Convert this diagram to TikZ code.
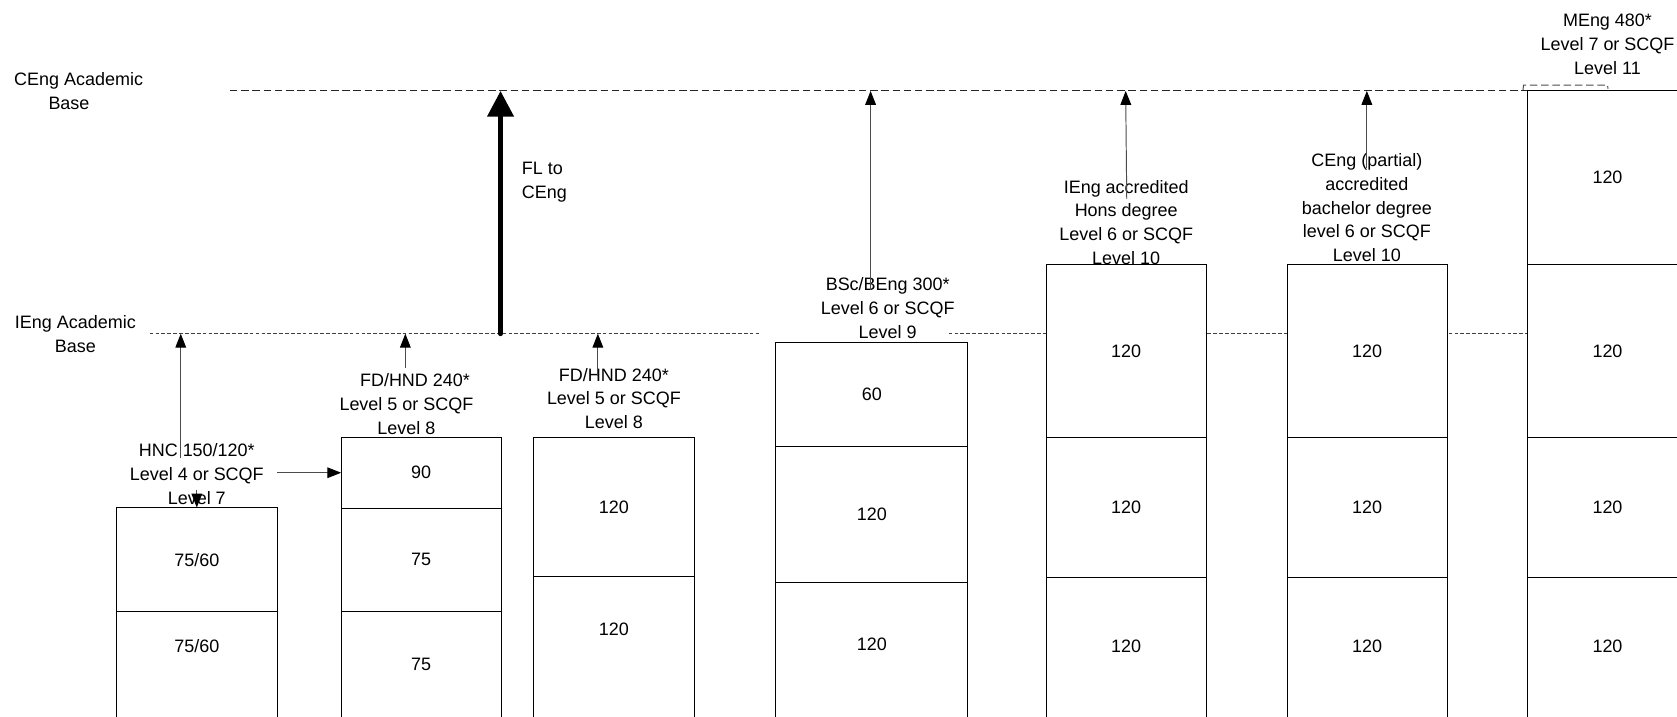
\documentclass[tikz,border=0pt]{standalone}
\usepackage{fontspec}
\setmainfont{Liberation Sans}
\usetikzlibrary{arrows.meta}
\begin{document}
\begin{tikzpicture}[x=1pt,y=-1pt,
  every node/.style={font=\fontsize{16.8}{22.3}\selectfont, inner sep=0pt, outer sep=0pt},
  lbl/.style={align=center},
  cell/.style={draw=black, line width=0.9pt, fill=white, minimum width=150pt, anchor=north},
  arr/.style={draw=black!70, line width=0.9pt, -{Triangle[length=13pt,width=10pt,black]}},
  thickarr/.style={draw=black, line width=4.7pt, line cap=round, -{Triangle[length=24pt,width=24pt]}},
  cengline/.style={dash pattern=on 7pt off 3.5pt, line width=0.9pt, draw=black!85},
  iengline/.style={dash pattern=on 3.5pt off 2pt, line width=0.9pt, draw=black!75},
]
\useasboundingbox (0,0) rectangle (1568,669.5);
\clip (0,0) rectangle (1568,669.5);

% academic base lines
\coordinate (cengS) at (215,85);
\coordinate (cengE) at (1428,85);
\draw[cengline] (cengS) -- (cengE);
\draw[iengline] (140,312) -- (710,312);
\draw[iengline] (887,312) -- (1428,312);
\draw[cengline, draw=black!70] (1424,84) -- (1424.5,79.5) -- (1503,79.5) -- (1503.5,83);

% column 1: HNC
\node[cell, minimum height=97.5pt] (c1a) at (184,474.5) {75/60};
\node[cell, minimum height=130pt] (c1b) at (184,572) {};
\node (t1b) at (184,604.5) {75/60};

% column 2: FD/HND
\node[cell, minimum width=149.5pt, minimum height=66pt] (c2a) at (393.75,409) {90};
\node[cell, minimum width=149.5pt, minimum height=97pt] (c2b) at (393.75,475) {75};
\node[cell, minimum width=149.5pt, minimum height=130pt] (c2c) at (393.75,572) {};
\node (t2c) at (393.75,621) {75};

% column 3: FD/HND
\node[cell, minimum height=130pt] (c3a) at (574,409) {120};
\node[cell, minimum height=161pt] (c3b) at (574,539) {};
\node (t3b) at (574,588.5) {120};

% column 4: BSc/BEng
\node[cell, minimum width=179.5pt, minimum height=97pt] (c4a) at (815.25,320) {60};
\node[cell, minimum width=179.5pt, minimum height=128pt] (c4b) at (815.25,417) {120};
\node[cell, minimum width=179.5pt, minimum height=155pt] (c4c) at (815.25,545) {};
\node (t4c) at (815.25,602) {120};

% column 5: IEng accredited
\node[cell, minimum height=162.5pt] (c5a) at (1053,247) {120};
\node[cell, minimum height=130.5pt] (c5b) at (1053,409.5) {120};
\node[cell, minimum height=160pt] (c5c) at (1053,540) {};
\node (t5c) at (1053,604.5) {120};

% column 6: CEng partial
\node[cell, minimum width=149.5pt, minimum height=162.5pt] (c6a) at (1278.25,247) {120};
\node[cell, minimum width=149.5pt, minimum height=130.5pt] (c6b) at (1278.25,409.5) {120};
\node[cell, minimum width=149.5pt, minimum height=160pt] (c6c) at (1278.25,540) {};
\node (t6c) at (1278.25,604.5) {120};

% column 7: MEng
\node[cell, minimum height=162.5pt] (c7a) at (1503,84.5) {120};
\node[cell, minimum height=162.5pt] (c7b) at (1503,247) {120};
\node[cell, minimum height=130.5pt] (c7c) at (1503,409.5) {120};
\node[cell, minimum height=160pt] (c7d) at (1503,540) {};
\node (t7d) at (1503,604.5) {120};

% labels
\node[lbl] (cengL) at (73.5,85.2) {CEng Academic\\Base\hspace*{18pt}};
\node[lbl] (iengL) at (70.5,312.7) {IEng Academic\\Base};
\node[lbl] (hnc) at (184,443) {HNC 150/120*\\Level 4 or SCQF\\Level 7};
\node[lbl] (fd1) at (380,378) {\hspace*{16pt}FD/HND 240*\\Level 5 or SCQF\\Level 8};
\node[lbl] (fd2) at (574,372.6) {FD/HND 240*\\Level 5 or SCQF\\Level 8};
\node[lbl] (bsc) at (830,288) {BSc/BEng 300*\\Level 6 or SCQF\\Level 9};
\node[lbl] (iacc) at (1053,208) {IEng accredited\\Hons degree\\Level 6 or SCQF\\Level 10};
\node[lbl] (cpart) at (1278,194.2) {CEng (partial)\\accredited\\bachelor degree\\level 6 or SCQF\\Level 10};
\node[lbl] (meng) at (1503,41.4) {MEng 480*\\Level 7 or SCQF\\Level 11};
\node[align=left, anchor=west] (fl) at (488,170.7) {FL to\\CEng};

% arrow end points
\coordinate (a1s) at (169,428);   \coordinate (a1e) at (169,312);
\coordinate (a2s) at (184,458);
\coordinate (a3s) at (259,442);
\coordinate (a4s) at (379,344);   \coordinate (a4e) at (379,312);
\coordinate (a5s) at (559,352);   \coordinate (a5e) at (559,312);
\coordinate (a6s) at (814,271);   \coordinate (a6e) at (814,85);
\coordinate (a7s) at (1053.5,186); \coordinate (a7e) at (1052.5,85);
\coordinate (a8s) at (1278,157);  \coordinate (a8e) at (1278,85);
\coordinate (flS) at (468,312);   \coordinate (flE) at (468,85);

% arrows
\draw[arr] (a1s) -- (a1e);
\draw[arr] (a2s) -- (c1a.north);
\draw[arr] (a3s) -- (c2a.west);
\draw[arr] (a4s) -- (a4e);
\draw[arr] (a5s) -- (a5e);
\draw[arr] (a6s) -- (a6e);
\draw[arr] (a7s) -- (a7e);
\draw[arr] (a8s) -- (a8e);
\draw[thickarr] (flS) -- (flE);
\end{tikzpicture}
\end{document}
